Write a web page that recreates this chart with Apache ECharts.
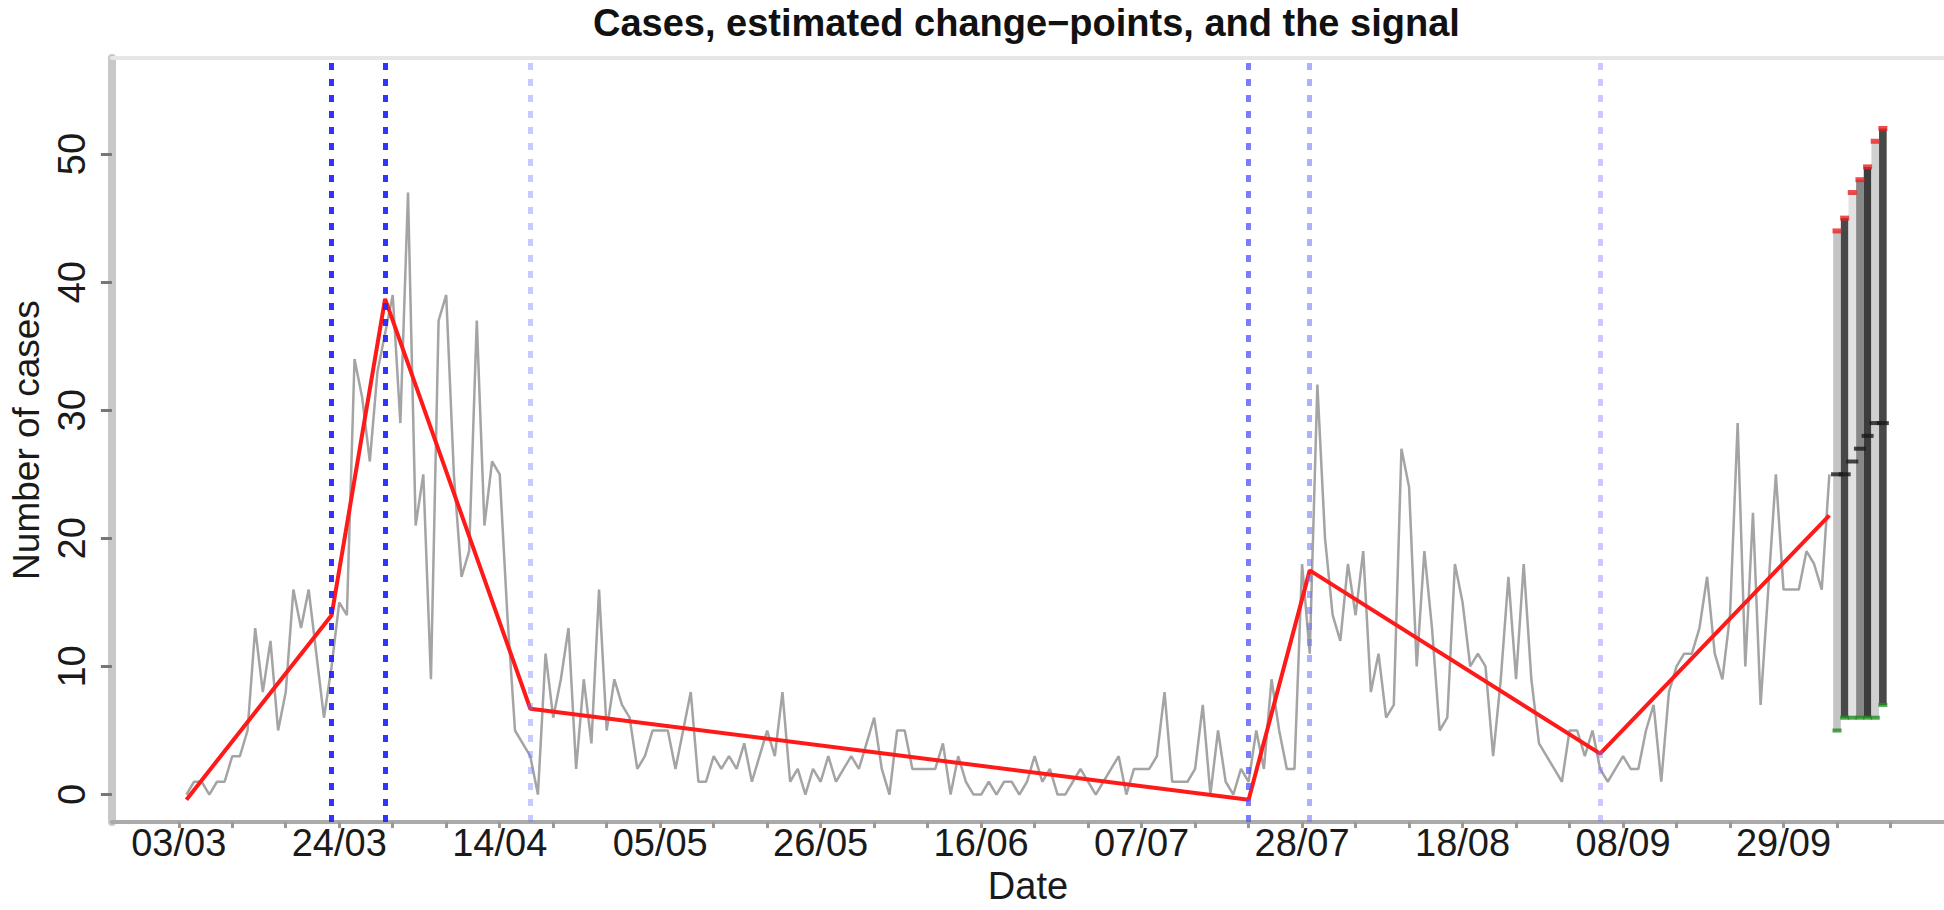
<!DOCTYPE html>
<html><head><meta charset="utf-8">
<script src="https://cdn.jsdelivr.net/npm/echarts@6/dist/echarts.min.js"></script>
<style>html,body{margin:0;padding:0;background:#fff}#c{width:1944px;height:910px}</style>
</head><body><div id="c"></div>
<script>
// Daily cases, day 1 = 04/03 (day 0 = 03/03)
const firstDay = 1;
const cases = [
  0,1,1,0,1,1,3,3,5,13,
  8,12,5,8,16,13,16,11,6,10,
  15,14,34,31,26,33,36,39,29,47,
  21,25,9,37,39,25,17,19,37,21,
  26,25,14,5,4,3,0,11,6,9,
  13,2,9,4,16,5,9,7,6,2,
  3,5,5,5,2,5,8,1,1,3,
  2,3,2,4,1,3,5,3,8,1,
  2,0,2,1,3,1,2,3,2,4,
  6,2,0,5,5,2,2,2,2,4,
  0,3,1,0,0,1,0,1,1,0,
  1,3,1,2,0,0,1,2,1,0,
  1,2,3,0,2,2,2,3,8,1,
  1,1,2,7,0,5,1,0,2,1,
  5,2,9,5,2,2,18,11,32,20,
  14,12,18,14,19,8,11,6,7,27,
  24,10,19,13,5,6,18,15,10,11,
  10,3,9,17,9,18,9,4,3,2,
  1,5,5,3,5,2,1,2,3,2,
  2,5,7,1,8,10,11,11,13,17,
  11,9,14,29,10,22,7,16,25,16,
  16,16,19,18,16,25
];
// estimated piecewise-linear signal
const fitDays   = [1, 20, 27, 46, 140, 148, 186, 216];
const fitValues = [-0.4, 14, 38.7, 6.7, -0.4, 17.5, 3.2, 21.8];
// estimated change-points (days)
const changePoints = [20, 27, 46, 140, 148, 186];
// forecast intervals
const forecastDays   = [217, 218, 219, 220, 221, 222, 223];
const forecastUpper  = [44, 45, 47, 48, 49, 51, 52];
const forecastMedian = [25, 25, 26, 27, 28, 29, 29];
const forecastLower  = [5, 6, 6, 6, 6, 6, 7];
// axes
const tickDays   = [0, 21, 42, 63, 84, 105, 126, 147, 168, 189, 210];
const tickLabels = ['03/03','24/03','14/04','05/05','26/05','16/06','07/07','28/07','18/08','08/09','29/09'];
const weekTicks  = [0,7,14,21,28,35,42,49,56,63,70,77,84,91,98,105,112,119,126,133,140,147,154,161,168,175,182,189,196,203,210,217,224];
const yTicks     = [0, 10, 20, 30, 40, 50];

const FONT = 'Liberation Sans, Arial, sans-serif';
const cpColors = ['rgba(40,40,255,0.95)','rgba(40,40,255,0.95)','rgba(120,120,255,0.4)','rgba(80,80,255,0.75)','rgba(110,110,255,0.55)','rgba(120,120,255,0.4)'];
const barColors = ['#c4c4c4','#484848','#e2e2e2','#888888','#3c3c3c','#d0d0d0','#484848'];

const chart = echarts.init(document.getElementById('c'), null, {renderer: 'svg'});
const option = {
  animation: false,
  title: {
    text: 'Cases, estimated change\u2212points, and the signal',
    left: 593, top: 4, padding: 0,
    textStyle: {fontSize: 38, fontWeight: 'bold', fontFamily: FONT, color: '#111'}
  },
  grid: {left: 111, right: 0, top: 58, bottom: 75},
  xAxis: [{
    type: 'value', min: -8.75, max: 231,
    axisLine: {show: true, onZero: false, lineStyle: {color: '#aaaaaa', width: 4}},
    axisTick: {show: true, customValues: weekTicks, length: 6, lineStyle: {color: '#999', width: 3}},
    axisLabel: {customValues: tickDays, formatter: v => tickLabels[tickDays.indexOf(v)],
      fontSize: 38, fontFamily: FONT, color: '#1a1a1a', margin: 2},
    splitLine: {show: false},
    name: 'Date', nameLocation: 'middle', nameGap: 36,
    nameTextStyle: {fontSize: 38, fontFamily: FONT, color: '#1a1a1a'}
  }, {
    type: 'value', min: -8.75, max: 231, position: 'top',
    axisLine: {show: true, onZero: false, lineStyle: {color: '#e6e6e6', width: 4}},
    axisTick: {show: false}, axisLabel: {show: false}, splitLine: {show: false}
  }],
  yAxis: {
    type: 'value', min: -2.15, max: 57.5,
    axisLine: {show: true, onZero: false, lineStyle: {color: '#c8c8c8', width: 8}},
    axisTick: {show: true, customValues: yTicks, length: 11, lineStyle: {color: '#777', width: 3}},
    axisLabel: {customValues: yTicks, rotate: 90, fontSize: 38, fontFamily: FONT, color: '#1a1a1a', margin: 21},
    splitLine: {show: false},
    name: 'Number of cases', nameLocation: 'middle', nameRotate: 90, nameGap: 63,
    nameTextStyle: {fontSize: 37, fontFamily: FONT, color: '#1a1a1a'}
  },
  series: [
    {
      type: 'line', name: 'cases', z: 2, showSymbol: false, silent: true,
      data: cases.map((v, i) => [firstDay + i, v]),
      lineStyle: {color: '#a4a4a4', width: 2.5},
      markLine: {
        silent: true, symbol: ['none', 'none'], label: {show: false},
        data: changePoints.map((d, i) => ({xAxis: d, lineStyle: {color: cpColors[i], type: [7, 9], width: 5}}))
      }
    },
    {
      type: 'line', name: 'signal', z: 4, showSymbol: false, silent: true,
      data: fitDays.map((d, i) => [d, fitValues[i]]),
      lineStyle: {color: '#ff1a1a', width: 4}
    },
    {
      type: 'custom', name: 'interval', z: 3, silent: true,
      data: forecastDays.map((d, i) => [d, forecastLower[i], forecastUpper[i]]),
      encode: {x: 0, y: [1, 2]},
      renderItem: (params, api) => {
        const d = api.value(0);
        const a = api.coord([d, api.value(1)]);
        const b = api.coord([d, api.value(2)]);
        const w = api.size([1, 0])[0];
        return {type: 'rect', shape: {x: a[0] - w / 2, y: b[1], width: w, height: a[1] - b[1]},
          style: {fill: barColors[params.dataIndex]}};
      }
    },
    {
      type: 'scatter', name: 'upper', z: 5, silent: true, symbol: 'rect', symbolSize: [9, 5],
      data: forecastDays.map((d, i) => [d, forecastUpper[i]]),
      itemStyle: {color: '#e82020'}
    },
    {
      type: 'scatter', name: 'median', z: 5, silent: true, symbol: 'rect', symbolSize: [12, 4],
      data: forecastDays.map((d, i) => [d, forecastMedian[i]]),
      itemStyle: {color: '#1a1a1a'}
    },
    {
      type: 'scatter', name: 'lower', z: 5, silent: true, symbol: 'rect', symbolSize: [9, 4],
      data: forecastDays.map((d, i) => [d, forecastLower[i]]),
      itemStyle: {color: '#1e8c1e'}
    }
  ]
};
chart.setOption(option);
</script>
</body></html>
